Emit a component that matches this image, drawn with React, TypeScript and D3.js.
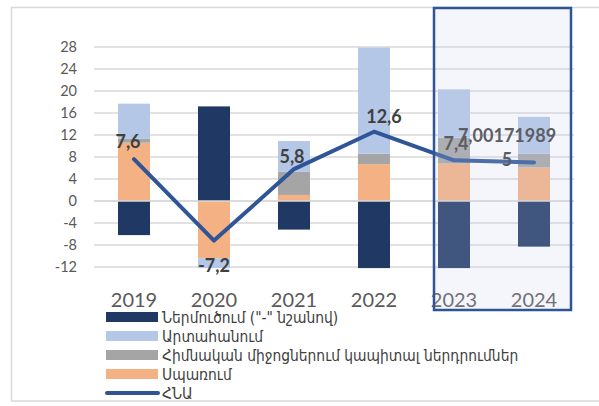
import React from 'react';
import * as d3 from 'd3';

const years = ['2019', '2020', '2021', '2022', '2023', '2024'];
const importVals = [-6.2, 17.2, -5.2, -12.2, -12.2, -8.3];
const exportVals = [6.4, -1.8, 5.6, 19.3, 8.8, 6.7];
const capitalVals = [0.7, 0, 4.2, 1.9, 4.7, 2.5];
const consumptionVals = [10.6, -10.4, 1.1, 6.7, 6.8, 6.1];
const gdpVals = [7.6, -7.2, 5.8, 12.6, 7.4, 7.001719895];
const gdpLabels = [['7,6'], ['-7,2'], ['5,8'], ['12,6'], ['7,4'], ['7,00171989', '5']];
const yTicks = [-12, -8, -4, 0, 4, 8, 12, 16, 20, 24, 28];

const seriesNames = {
  imp: 'Ներմուծում ("-" նշանով)',
  exp: 'Արտահանում',
  cap: 'Հիմնական միջոցներում կապիտալ ներդրումներ',
  con: 'Սպառում',
  gdp: 'ՀՆԱ',
};

const colors: Record<string, string> = {
  imp: '#203864',
  exp: '#b4c7e7',
  cap: '#a5a5a5',
  con: '#f4b183',
  gdp: '#2f5597',
};

// label nudges relative to the point (px)
const labelNudge = [[-6, -11], [0, 31], [-2, -6], [10, -9], [2, -10], [-27, -20]];

const W = 599;
const H = 406;

export default function App() {
  const x = d3.scaleBand().domain(years).range([94, 574]).paddingInner(0.6).paddingOuter(0.3);
  const y = d3.scaleLinear().domain([-12, 28]).range([267, 47]);

  const rows = years.map((yr, i) => ({
    year: yr,
    con: consumptionVals[i],
    cap: capitalVals[i],
    exp: exportVals[i],
    imp: importVals[i],
  }));
  const keys = ['con', 'cap', 'exp', 'imp'];
  const stacked = d3.stack<any>().keys(keys).offset(d3.stackOffsetDiverging)(rows);

  const cx = (yr: string) => (x(yr) ?? 0) + x.bandwidth() / 2;
  const line = d3.line<number>().x((_, i) => cx(years[i])).y(d => y(d));

  const legendItems = ['imp', 'exp', 'cap', 'con', 'gdp'];
  const legendY = d3.scalePoint().domain(legendItems).range([317, 393]);

  const tickFont = 'Lato, "Open Sans", sans-serif';
  const armFont = '"DejaVu Sans Condensed", "DejaVu Sans", sans-serif';

  return (
    <svg width={W} height={H} style={{ position: 'absolute', left: 0, top: 0, background: '#fff' }}>
      <rect x={11.5} y={7.5} width={620} height={393.5} fill="#fff" stroke="#d9d9d9" strokeWidth={1.5} />

      {yTicks.map(t => (
        <g key={t}>
          <line x1={94} x2={574} y1={y(t)} y2={y(t)} stroke="#d9d9d9" strokeWidth={1.6} />
          <text x={77} y={y(t) + 5} textAnchor="end" fontSize={14.5} fill="#595959" fontFamily={tickFont}>
            {t}
          </text>
        </g>
      ))}

      {stacked.map(s => (
        <g key={s.key} fill={colors[s.key]}>
          {s.map((d, i) => (
            <rect
              key={i}
              x={x(years[i])}
              width={x.bandwidth()}
              y={y(Math.max(d[0], d[1]))}
              height={Math.abs(y(d[0]) - y(d[1]))}
            />
          ))}
        </g>
      ))}

      <line x1={94} x2={574} y1={y(0)} y2={y(0)} stroke="#d9d9d9" strokeWidth={1.6} />

      <path d={line(gdpVals) ?? ''} fill="none" stroke={colors.gdp} strokeWidth={4} strokeLinejoin="round" strokeLinecap="round" />

      {gdpVals.map((v, i) => (
        <text
          key={i}
          x={cx(years[i]) + labelNudge[i][0]}
          y={y(v) + labelNudge[i][1]}
          textAnchor="middle"
          fontSize={18}
          fontWeight="bold"
          fill="#404040"
          fontFamily={tickFont}
        >
          {gdpLabels[i].map((l, j) => (
            <tspan key={j} x={cx(years[i]) + labelNudge[i][0]} dy={j === 0 ? 0 : 24}>
              {l}
            </tspan>
          ))}
        </text>
      ))}

      {years.map(yr => (
        <text key={yr} x={cx(yr)} y={307} textAnchor="middle" fontSize={20} fill="#595959" fontFamily={tickFont}>
          {yr}
        </text>
      ))}

      {legendItems.map(k => {
        const ly = legendY(k) ?? 0;
        return (
          <g key={k}>
            {k === 'gdp' ? (
              <line x1={107} x2={158} y1={ly} y2={ly} stroke={colors.gdp} strokeWidth={4} strokeLinecap="round" />
            ) : (
              <rect x={106} y={ly - 5} width={52} height={10} fill={colors[k]} />
            )}
            <text x={162} y={ly + 5.5} fontSize={15.4} fill="#404040" fontFamily={armFont}>
              {seriesNames[k as keyof typeof seriesNames]}
            </text>
          </g>
        );
      })}

      <rect x={434} y={8} width={137} height={302} fill="#c8d4ea" fillOpacity={0.2} stroke={colors.gdp} strokeWidth={2.5} />
    </svg>
  );
}
